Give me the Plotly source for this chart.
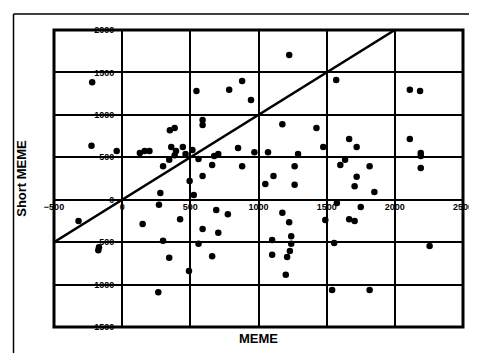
import plotly.graph_objects as go

# MEME (x) and Short MEME (y) values
meme = [-220, -225, -40, 130, 165, 200, 350, 385, 360, 395, 385, 445, 465, 515, 345, 300,
        590, 590, 545, 560, 495, 525, 280, 270, 590, 660, 675, 705, 785, 880, 945, 1225,
        850, 970, 1070, 880, 1290, 1265, 1175, 1425, 1475, 1050, 1110, 1265, 1570, 2110,
        2185, 1665, 1720, 2110, 2190, 2190, 1600, 1635, 1815, 2190, 1720, 1705, 1850, 1575,
        1750, 1665, 1705, 1490, 1175, 1225, 1100, 1240, 1240, 1230, 1100, 1210, 1200, 1555,
        2255, 1540, 1815, -320, 150, 425, 300, 345, -175, -170, 265, 490, 690, 775, 590,
        705, 560, 660]
short_meme = [1385, 635, 575, 550, 575, 575, 820, 845, 620, 575, 525, 620, 540, 585, 470, 395,
              940, 880, 1280, 480, 220, 55, 80, -60, 280, 410, 515, 540, 1295, 1400, 1175, 1705,
              610, 560, 560, 395, 540, 395, 890, 845, 620, 185, 280, 175, 1410, 1295,
              1280, 715, 620, 715, 550, 515, 410, 470, 395, 375, 270, 160, 90, -40,
              -85, -230, -250, -240, -155, -265, -475, -430, -520, -605, -650, -675, -885, -510,
              -545, -1065, -1065, -250, -285, -230, -485, -685, -595, -560, -1090, -840, -120, -170, -345,
              -390, -520, -665]

# reference line y = x
diag = [-500, 2000]

x_ticks = [-500, 0, 500, 1000, 1500, 2000, 2500]
y_ticks = [-1500, -1000, -500, 0, 500, 1000, 1500, 2000]
x_range = [-500, 2500]
y_range = [-1500, 2000]

fig = go.Figure()
fig.add_trace(go.Scatter(x=diag, y=diag, mode="lines",
                         line=dict(color="black", width=2.5), showlegend=False, hoverinfo="skip"))
fig.add_trace(go.Scatter(x=meme, y=short_meme, mode="markers",
                         marker=dict(color="black", size=6.5), showlegend=False))
# invisible trace to register the label-only overlay axes
fig.add_trace(go.Scatter(x=[None], y=[None], xaxis="x2", yaxis="y2", showlegend=False, hoverinfo="skip"))

tickfont = dict(family="Liberation Sans, Arial, sans-serif", size=9, color="black", weight="bold")
titlefont = dict(family="Liberation Sans, Arial, sans-serif", size=13, color="black", weight="bold")

x0_frac = (0 - y_range[0]) / (y_range[1] - y_range[0])
y0_frac = (0 - x_range[0]) / (x_range[1] - x_range[0])

fig.update_layout(
    width=477, height=353,
    margin=dict(l=46, r=15, t=22, b=34),
    paper_bgcolor="white", plot_bgcolor="white",
    xaxis=dict(range=x_range, tickvals=x_ticks, showticklabels=False, ticks="",
               showgrid=True, gridcolor="black", gridwidth=2, zeroline=False,
               showline=False, title=dict(text="MEME", font=titlefont, standoff=6)),
    yaxis=dict(range=y_range, tickvals=y_ticks, showticklabels=False, ticks="",
               showgrid=True, gridcolor="black", gridwidth=2, zeroline=False,
               showline=False, title=dict(text="Short MEME", font=titlefont, standoff=23)),
    xaxis2=dict(range=x_range, tickvals=x_ticks, overlaying="x", anchor="free",
                position=x0_frac, showgrid=False, zeroline=False, showline=False,
                ticks="", ticklabeloverflow="allow", tickfont=tickfont),
    yaxis2=dict(range=y_range, tickvals=y_ticks, overlaying="y", anchor="free",
                position=y0_frac, side="left", showgrid=False, zeroline=False, showline=False,
                ticks="outside", ticklen=6, tickcolor="rgba(0,0,0,0)",
                ticklabeloverflow="allow", tickfont=tickfont),
    shapes=[
        dict(type="rect", xref="paper", yref="paper", x0=0, x1=1, y0=0, y1=1,
             line=dict(color="black", width=3), layer="above"),
        dict(type="line", xref="paper", yref="paper", x0=-0.099, x1=1.05, y0=1.054, y1=1.054,
             line=dict(color="black", width=1.5)),
        dict(type="line", xref="paper", yref="paper", x0=-0.099, x1=-0.099, y0=1.054, y1=-0.105,
             line=dict(color="black", width=1.5)),
    ],
)

fig.write_html("out.html")
